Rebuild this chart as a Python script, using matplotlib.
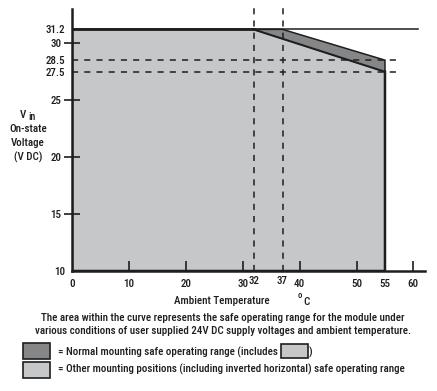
import matplotlib.pyplot as plt
from matplotlib import font_manager as fm
from matplotlib.patches import Polygon, Rectangle

# safe operating curve (temperature degC, voltage V DC)
other_temp = [0, 0, 32, 55, 55]
other_volt = [10, 31.2, 31.2, 27.5, 10]
normal_temp = [32, 37, 55, 55]
normal_volt = [31.2, 31.2, 28.5, 27.5]

x_ticks = [10, 20, 30, 40, 50, 60]
x_labels_extra = [0, 55]
y_ticks = [15, 20, 25, 30]
y_labels_extra = [10, 27.5, 28.5, 31.2]
ref_temps = [32, 37]
ref_volts = [27.5, 28.5]
v_max = 31.2

caption1 = 'The area within the curve represents the safe operating range for the module under'
caption2 = 'various conditions of user supplied 24V DC supply voltages and ambient temperature.'
legend1 = '= Normal mounting safe operating range (includes'
legend2 = '= Other mounting positions (including inverted horizontal) safe operating range'

light = '#c6c7c9'
dark = '#858688'
ink = '#1e1e1e'

# pick a narrow font if there is one
names = [f.name for f in fm.fontManager.ttflist]
narrow = [n for n in ['Liberation Sans Narrow', 'Roboto Condensed', 'Open Sans Condensed',
                      'Noto Sans Condensed', 'DejaVu Sans Condensed'] if n in names]
narrow += sorted({n for n in names if 'Narrow' in n or 'Condensed' in n} - set(narrow))
if narrow:
    plt.rcParams['font.family'] = [narrow[0], 'DejaVu Sans']
else:
    plt.rcParams['font.family'] = ['DejaVu Sans']
    if any(f.name == 'DejaVu Sans' and 'condensed' in str(f.stretch) for f in fm.fontManager.ttflist):
        plt.rcParams['font.stretch'] = 'condensed'
plt.rcParams['font.weight'] = 'medium'

fig = plt.figure(figsize=(4.37, 3.91), dpi=100)

# size the text so the caption spans what it does in the original
probe = fig.text(0, 0, caption2, fontsize=10)
fig.canvas.draw()
fs = 10 * 372 / probe.get_window_extent().width
probe.remove()
plt.rcParams['font.size'] = fs

ax = fig.add_axes([0.1648, 0.3069, 0.8073, 0.6693])
ax.set_xlim(0, 62)
ax.set_ylim(10, 32.96)

ax.add_patch(Polygon(list(zip(other_temp, other_volt)), closed=True,
                     facecolor=light, edgecolor=ink, linewidth=1.8, zorder=1))
ax.add_patch(Polygon(list(zip(normal_temp, normal_volt)), closed=True,
                     facecolor=dark, edgecolor=ink, linewidth=1.1, zorder=2))
ax.plot([normal_temp[0], 60.8], [v_max, v_max], color=ink, lw=1.1, zorder=3, clip_on=False)
ax.plot([0, normal_temp[0]], [v_max, v_max], color=ink, lw=1.8, zorder=3)

for t in ref_temps:
    ax.plot([t, t], [10, 33.3], color=ink, lw=1.1, ls=(0, (4, 4)), zorder=4, clip_on=False)
for v in ref_volts:
    ax.plot([0, 57.6], [v, v], color=ink, lw=1.1, ls=(0, (4, 4)), zorder=4, clip_on=False)

for s in ['top', 'right']:
    ax.spines[s].set_visible(False)
for s in ['left', 'bottom']:
    ax.spines[s].set_linewidth(1.8)
    ax.spines[s].set_color(ink)

ax.set_xticks(x_ticks)
ax.set_xticks(x_labels_extra, minor=True)
ax.set_xticklabels([str(v) for v in x_labels_extra], minor=True)
ax.set_yticks(y_ticks)
ax.set_yticks(y_labels_extra, minor=True)
ax.set_yticklabels(['10', '27.5', '28.5', '31.2'], minor=True)
ax.tick_params(axis='x', which='major', direction='in', length=7, width=1.2, color=ink, pad=6)
ax.tick_params(axis='x', which='minor', length=0, pad=6)
ax.tick_params(axis='y', which='major', direction='inout', length=11, width=1.2, color=ink, pad=2)
ax.tick_params(axis='y', which='minor', length=0, pad=5)
for lab in ax.get_xticklabels(which='both') + ax.get_yticklabels(which='both'):
    lab.set_color(ink)

for t in ref_temps:
    ax.text(t, 9.55, str(t), ha='center', va='top', color=ink)

fig.text(222 / 437, 1 - 301 / 391, 'Ambient Temperature', ha='center', va='center', color=ink)
fig.text(300 / 437, 1 - 296 / 391, 'o', ha='center', va='center', fontsize=fs * 0.8, color=ink)
fig.text(306 / 437, 1 - 302 / 391, 'C', ha='center', va='center', color=ink)

fig.text(26 / 437, 1 - 115 / 391, 'V', ha='right', va='center', color=ink)
fig.text(28 / 437, 1 - 117 / 391, 'in', ha='left', va='center', fontsize=fs * 0.9, color=ink)
fig.text(28 / 437, 1 - 129 / 391, 'On-state', ha='center', va='center', color=ink)
fig.text(28 / 437, 1 - 143 / 391, 'Voltage', ha='center', va='center', color=ink)
fig.text(28 / 437, 1 - 157 / 391, '(V DC)', ha='center', va='center', color=ink)

fig.text(223 / 437, 1 - 318 / 391, caption1, ha='center', va='center', color=ink)
fig.text(223 / 437, 1 - 331 / 391, caption2, ha='center', va='center', color=ink)

# legend swatches
fig.add_artist(Rectangle((23 / 437, 1 - 359 / 391), 27 / 437, 16 / 391,
                         transform=fig.transFigure, facecolor=dark, edgecolor=ink, lw=1.2))
fig.add_artist(Rectangle((23 / 437, 1 - 378 / 391), 27 / 437, 16 / 391,
                         transform=fig.transFigure, facecolor=light, edgecolor=ink, lw=1.2))
t1 = fig.text(58 / 437, 1 - 352 / 391, legend1, ha='left', va='center', color=ink)
fig.text(58 / 437, 1 - 369 / 391, legend2, ha='left', va='center', color=ink)

fig.canvas.draw()
bb = t1.get_window_extent().transformed(fig.transFigure.inverted())
fig.add_artist(Rectangle((bb.x1 + 3 / 437, 1 - 358 / 391), 27 / 437, 14 / 391,
                         transform=fig.transFigure, facecolor=light, edgecolor=ink, lw=1.2))
fig.text(bb.x1 + 31 / 437, 1 - 352 / 391, ')', ha='left', va='center', color=ink)

fig.savefig('out.png', dpi=100)
